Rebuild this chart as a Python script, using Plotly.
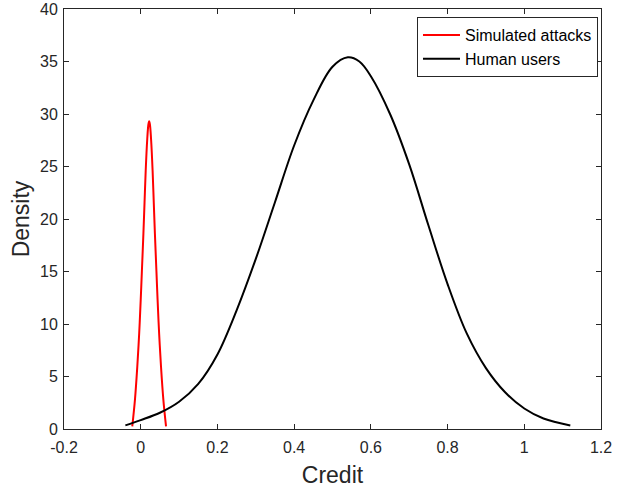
import plotly.graph_objects as go

# ---- data ----
attack_x = [-0.022, -0.015, -0.009, -0.004, 0.000, 0.003, 0.007, 0.010, 0.013, 0.017, 0.020,
            0.022, 0.024, 0.027, 0.031, 0.034, 0.037, 0.041, 0.044, 0.048, 0.053, 0.059, 0.066]
attack_y = [0.25, 2.8, 5.9, 9.1, 12.3, 15.0, 18.6, 21.6, 24.6, 27.6, 29.0,
            29.3, 29.0, 27.6, 24.6, 21.6, 18.6, 15.0, 12.3, 9.1, 5.9, 2.8, 0.25]

human_x = [-0.04, 0.00, 0.05, 0.10, 0.15, 0.20, 0.25, 0.30, 0.35, 0.40, 0.45, 0.50,
           0.54, 0.57, 0.60, 0.65, 0.70, 0.75, 0.80, 0.85, 0.90, 0.95, 1.00, 1.05, 1.12]
human_y = [0.35, 0.85, 1.55, 2.6, 4.3, 7.1, 11.3, 16.2, 21.6, 27.0, 31.3, 34.5,
           35.4, 35.0, 33.6, 30.0, 25.2, 19.4, 13.8, 9.1, 5.8, 3.5, 1.95, 1.0, 0.34]

x_tickvals = [-0.2, 0, 0.2, 0.4, 0.6, 0.8, 1.0, 1.2]
x_ticktext = ["-0.2", "0", "0.2", "0.4", "0.6", "0.8", "1", "1.2"]
y_tickvals = [0, 5, 10, 15, 20, 25, 30, 35, 40]
y_ticktext = ["0", "5", "10", "15", "20", "25", "30", "35", "40"]

series_names = ["Simulated attacks", "Human users"]

AX = "#262626"
FONT = "Liberation Sans, Arial, Helvetica, sans-serif"

fig = go.Figure()
fig.add_trace(go.Scatter(x=attack_x, y=attack_y, mode="lines", name=series_names[0],
                         line=dict(color="#ff0000", width=2, shape="spline", smoothing=1)))
fig.add_trace(go.Scatter(x=human_x, y=human_y, mode="lines", name=series_names[1],
                         line=dict(color="#000000", width=2, shape="spline", smoothing=1)))

axis_common = dict(showgrid=False, zeroline=False, showline=True, linecolor=AX, linewidth=1,
                   mirror="ticks", ticks="inside", ticklen=5, tickcolor=AX, tickwidth=1,
                   ticklabeloverflow="allow",
                   tickfont=dict(family=FONT, size=16, color=AX))

fig.update_xaxes(range=[-0.2, 1.2], tickvals=x_tickvals, ticktext=x_ticktext,
                 ticklabelstandoff=4,
                 title=dict(text="Credit", font=dict(family=FONT, size=23, color=AX), standoff=11),
                 **axis_common)
fig.update_yaxes(range=[0, 40], tickvals=y_tickvals, ticktext=y_ticktext,
                 ticklabelstandoff=2,
                 title=dict(text="Density", font=dict(family=FONT, size=23, color=AX), standoff=3),
                 **axis_common)

fig.update_layout(
    width=626, height=491,
    margin=dict(l=64, r=25, t=9, b=62, autoexpand=False),
    paper_bgcolor="white", plot_bgcolor="white",
    font=dict(family=FONT, color=AX),
    showlegend=True,
    legend=dict(x=0.9944, y=0.981, xanchor="right", yanchor="top",
                bgcolor="white", bordercolor=AX, borderwidth=1,
                font=dict(family=FONT, size=16, color="#000000"),
                itemwidth=37, tracegroupgap=0),
)

fig.write_html("out.html", config={"displayModeBar": False},
               post_script="document.body.style.margin='0';document.documentElement.style.overflow='hidden';")
